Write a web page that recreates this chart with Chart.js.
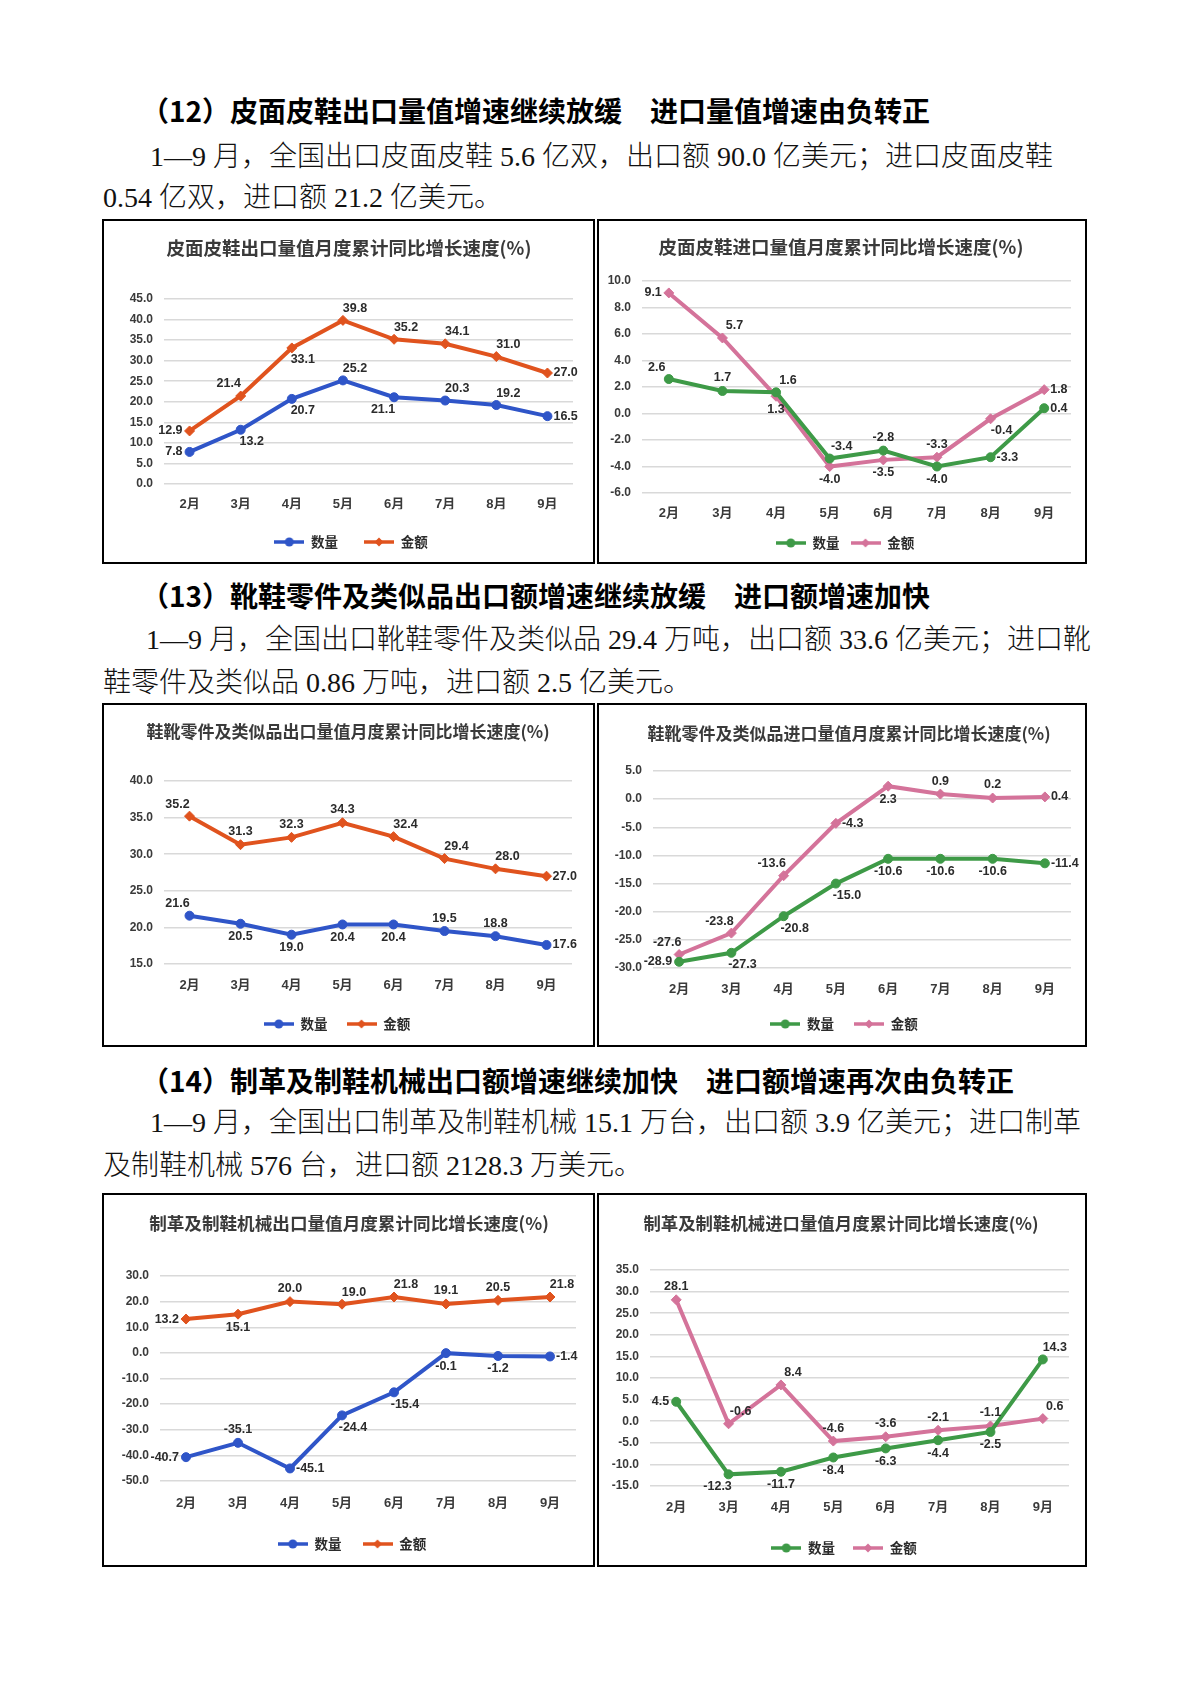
<!DOCTYPE html>
<html>
<head>
<meta charset="utf-8">
<script src="https://cdn.jsdelivr.net/npm/chart.js@4.4.1/dist/chart.umd.min.js"></script>
<style>
  body { margin: 0; background: #fff; }
  #page { position: relative; width: 1190px; height: 1683px; overflow: hidden; background: #fff; }
  .h { position: absolute; left: 141px; white-space: nowrap; font: bold 28px/40px "Noto Sans CJK SC", sans-serif; color: #000; }
  .p { position: absolute; white-space: nowrap; font: 300 28px/40px "Liberation Serif", "Noto Sans CJK SC", serif; color: #111; }
  .cv { position: absolute; }
  .box { position: absolute; box-sizing: border-box; border: 2px solid #000; pointer-events: none; }
  .ttl { position: absolute; white-space: nowrap; transform: translate(-50%, -50%); font-family: "Noto Sans CJK SC", sans-serif; font-weight: bold; color: #3a3a3a; line-height: 1; }
</style>
</head>
<body>
<div id="page">
  <div class="h" style="top:90px">（12）皮面皮鞋出口量值增速继续放缓　进口量值增速由负转正</div>
  <div class="p" style="top:137px;left:150px">1—9 月，全国出口皮面皮鞋 5.6 亿双，出口额 90.0 亿美元；进口皮面皮鞋</div>
  <div class="p" style="top:178px;left:103px">0.54 亿双，进口额 21.2 亿美元。</div>

  <div class="h" style="top:575px">（13）靴鞋零件及类似品出口额增速继续放缓　进口额增速加快</div>
  <div class="p" style="top:620px;left:146px">1—9 月，全国出口靴鞋零件及类似品 29.4 万吨，出口额 33.6 亿美元；进口靴</div>
  <div class="p" style="top:663px;left:103px">鞋零件及类似品 0.86 万吨，进口额 2.5 亿美元。</div>

  <div class="h" style="top:1060px">（14）制革及制鞋机械出口额增速继续加快　进口额增速再次由负转正</div>
  <div class="p" style="top:1103px;left:150px">1—9 月，全国出口制革及制鞋机械 15.1 万台，出口额 3.9 亿美元；进口制革</div>
  <div class="p" style="top:1146px;left:103px">及制鞋机械 576 台，进口额 2128.3 万美元。</div>
</div>

<script>
// categories and series
const months = ['2月', '3月', '4月', '5月', '6月', '7月', '8月', '9月'];
const seriesNames = ['数量', '金额'];

// 皮面皮鞋
const shoeExpQty = [7.8, 13.2, 20.7, 25.2, 21.1, 20.3, 19.2, 16.5];
const shoeExpVal = [12.9, 21.4, 33.1, 39.8, 35.2, 34.1, 31.0, 27.0];
const shoeImpQty = [2.6, 1.7, 1.6, -3.4, -2.8, -4.0, -3.3, 0.4];
const shoeImpVal = [9.1, 5.7, 1.3, -4.0, -3.5, -3.3, -0.4, 1.8];

// 靴鞋零件及类似品
const partsExpQty = [21.6, 20.5, 19.0, 20.4, 20.4, 19.5, 18.8, 17.6];
const partsExpVal = [35.2, 31.3, 32.3, 34.3, 32.4, 29.4, 28.0, 27.0];
const partsImpQty = [-28.9, -27.3, -20.8, -15.0, -10.6, -10.6, -10.6, -11.4];
const partsImpVal = [-27.6, -23.8, -13.6, -4.3, 2.3, 0.9, 0.2, 0.4];

// 制革及制鞋机械
const machExpQty = [-40.7, -35.1, -45.1, -24.4, -15.4, -0.1, -1.2, -1.4];
const machExpVal = [13.2, 15.1, 20.0, 19.0, 21.8, 19.1, 20.5, 21.8];
const machImpQty = [4.5, -12.3, -11.7, -8.4, -6.3, -4.4, -2.5, 14.3];
const machImpVal = [28.1, -0.6, 8.4, -4.6, -3.6, -2.1, -1.1, 0.6];

// y axis ranges: [min, max, step]
const shoeExpTicks = [0, 45, 5];
const shoeImpTicks = [-6, 10, 2];
const partsExpTicks = [15, 40, 5];
const partsImpTicks = [-30, 5, 5];
const machExpTicks = [-50, 30, 10];
const machImpTicks = [-15, 35, 5];

const titles = [
  '皮面皮鞋出口量值月度累计同比增长速度(%)',
  '皮面皮鞋进口量值月度累计同比增长速度(%)',
  '鞋靴零件及类似品出口量值月度累计同比增长速度(%)',
  '鞋靴零件及类似品进口量值月度累计同比增长速度(%)',
  '制革及制鞋机械出口量值月度累计同比增长速度(%)',
  '制革及制鞋机械进口量值月度累计同比增长速度(%)'
];

const expColors = ['#2F55C8', '#E0531E'];
const impColors = ['#3E9A47', '#D4739A'];

// label placement around each point
const OFFS = {
  a: [0, -13, 'center'], b: [0, 13, 'center'],
  ar: [12, -12, 'center'], al: [-12, -12, 'center'],
  br: [11, 12, 'center'], bl: [-11, 12, 'center'],
  l: [-7, 0, 'right'], r: [6, 0, 'left']
};

const valueLabels = {
  id: 'valueLabels',
  afterDatasetsDraw(chart) {
    const ctx = chart.ctx;
    ctx.save();
    ctx.font = 'bold 12.5px "Liberation Sans", sans-serif';
    ctx.fillStyle = '#2b2b2b';
    ctx.textBaseline = 'middle';
    chart.data.datasets.forEach((ds, di) => {
      chart.getDatasetMeta(di).data.forEach((pt, i) => {
        const o = OFFS[ds.labelPos[i]];
        ctx.textAlign = o[2];
        ctx.fillText(ds.data[i].toFixed(1), pt.x + o[0], pt.y + o[1]);
      });
    });
    ctx.restore();
  }
};

function legendIcon(color, shape) {
  const c = document.createElement('canvas');
  c.width = 30; c.height = 12;
  const g = c.getContext('2d');
  g.strokeStyle = color; g.fillStyle = color; g.lineWidth = 3.5;
  g.beginPath(); g.moveTo(0, 6); g.lineTo(30, 6); g.stroke();
  g.beginPath();
  if (shape === 'circle') {
    g.arc(15, 6, 4.5, 0, Math.PI * 2);
  } else {
    g.moveTo(15, 1.5); g.lineTo(19.5, 6); g.lineTo(15, 10.5); g.lineTo(10.5, 6); g.closePath();
  }
  g.fill();
  return c;
}

const page = document.getElementById('page');

function makeChart(s) {
  const [bx0, by0, bx1, by1] = s.box;
  const W = bx1 - bx0, H = by1 - by0;

  const wrap = document.createElement('div');
  wrap.className = 'cv';
  wrap.style.cssText = `left:${bx0}px;top:${by0}px;width:${W}px;height:${H}px`;
  const cv = document.createElement('canvas');
  wrap.appendChild(cv);
  page.appendChild(wrap);

  const border = document.createElement('div');
  border.className = 'box';
  border.style.cssText = `left:${bx0}px;top:${by0}px;width:${W}px;height:${H}px`;
  page.appendChild(border);

  const t = document.createElement('div');
  t.className = 'ttl';
  t.textContent = s.title;
  t.style.cssText = `left:${s.tx}px;top:${s.ty}px;font-size:${s.tfs}px`;
  page.appendChild(t);

  const [px0, py0, px1, py1] = s.plot;
  const padR = bx1 - px1;
  const yW = px0 - bx0;
  const padT = py0 - by0;
  const lfs = 13.5, lp = s.legend[2];
  const legTop = s.legend[1] - by0 - lp - lfs / 2;
  const legH = lfs + lp + 10;
  const padB = H - legTop - legH;
  const xH = legTop - (py1 - by0);
  const xfs = 13;
  const xPad = (s.xLabelY - py1) - xfs * 0.6;
  const legendCx = s.legend[0] - bx0;

  // move the legend row so it sits where the reference has it
  const legendShift = {
    id: 'legendShift',
    afterLayout(chart) {
      const lg = chart.legend;
      const dx = legendCx - (lg.left + lg.right) / 2;
      lg.left += dx; lg.right += dx;
    }
  };

  const line = (name, data, color, style, pos) => ({
    label: name, data: data, labelPos: pos,
    borderColor: color, backgroundColor: color,
    pointBackgroundColor: color, pointBorderColor: color,
    borderWidth: 4, pointStyle: style, pointRadius: style === 'circle' ? 4.5 : 5,
    pointBorderWidth: 1, tension: 0
  });

  new Chart(cv, {
    type: 'line',
    data: {
      labels: months,
      datasets: [
        line(seriesNames[0], s.qty, s.colors[0], 'circle', s.qtyPos),
        line(seriesNames[1], s.val, s.colors[1], 'rectRot', s.valPos)
      ]
    },
    options: {
      responsive: true,
      maintainAspectRatio: false,
      animation: false,
      layout: { padding: { left: 0, right: padR, top: padT, bottom: padB } },
      scales: {
        x: {
          offset: true,
          grid: { display: false, drawTicks: false },
          border: { display: false },
          ticks: {
            padding: xPad, maxRotation: 0, autoSkip: false, color: '#3a3a3a',
            font: { size: xfs, weight: 'bold', family: '"Liberation Sans", "Noto Sans CJK SC"' }
          },
          afterFit: sc => { sc.height = xH; }
        },
        y: {
          min: s.ticks[0], max: s.ticks[1],
          grid: { color: '#d9d9d9', lineWidth: 1.5, drawTicks: false },
          border: { display: false },
          ticks: {
            stepSize: s.ticks[2], padding: 11, color: '#3a3a3a',
            font: { size: 12, weight: 'bold', family: '"Liberation Sans"' },
            callback: v => Number(v).toFixed(1)
          },
          afterFit: sc => { sc.width = yW; }
        }
      },
      plugins: {
        tooltip: { enabled: false },
        title: { display: false },
        legend: {
          position: 'bottom',
          labels: {
            usePointStyle: true, pointStyleWidth: 30, padding: lp, color: '#2b2b2b',
            font: { size: lfs, weight: 'bold', family: '"Noto Sans CJK SC"' },
            generateLabels: chart => chart.data.datasets.map((d, i) => ({
              text: d.label, datasetIndex: i, hidden: false,
              fillStyle: d.borderColor, strokeStyle: d.borderColor, lineWidth: 0,
              fontColor: '#2b2b2b',
              pointStyle: legendIcon(d.borderColor, i === 0 ? 'circle' : 'diamond')
            }))
          }
        }
      }
    },
    plugins: [valueLabels, legendShift]
  });
}

const charts = [
  { title: titles[0], tx: 349, ty: 247, tfs: 18.5, box: [102, 219, 595, 564], plot: [164, 299, 573, 484],
    xLabelY: 504, legend: [351, 542, 26], ticks: shoeExpTicks, colors: expColors,
    qty: shoeExpQty, val: shoeExpVal,
    qtyPos: ['l', 'br', 'br', 'ar', 'bl', 'ar', 'ar', 'r'],
    valPos: ['l', 'al', 'br', 'ar', 'ar', 'ar', 'ar', 'r'] },
  { title: titles[1], tx: 841, ty: 246, tfs: 18.5, box: [597, 219, 1087, 564], plot: [642, 281, 1071, 493],
    xLabelY: 513, legend: [845, 543, 11], ticks: shoeImpTicks, colors: impColors,
    qty: shoeImpQty, val: shoeImpVal,
    qtyPos: ['al', 'a', 'ar', 'ar', 'a', 'b', 'r', 'r'],
    valPos: ['l', 'ar', 'b', 'b', 'b', 'a', 'br', 'r'] },
  { title: titles[2], tx: 348, ty: 730, tfs: 17, box: [102, 703, 595, 1047], plot: [164, 781, 572, 964],
    xLabelY: 985, legend: [337, 1024, 19], ticks: partsExpTicks, colors: expColors,
    qty: partsExpQty, val: partsExpVal,
    qtyPos: ['al', 'b', 'b', 'b', 'b', 'a', 'a', 'r'],
    valPos: ['al', 'a', 'a', 'a', 'ar', 'ar', 'ar', 'r'] },
  { title: titles[3], tx: 849, ty: 732, tfs: 17, box: [597, 703, 1087, 1047], plot: [653, 771, 1071, 968],
    xLabelY: 989, legend: [844, 1024, 20], ticks: partsImpTicks, colors: impColors,
    qty: partsImpQty, val: partsImpVal,
    qtyPos: ['l', 'br', 'br', 'br', 'b', 'b', 'b', 'r'],
    valPos: ['al', 'al', 'al', 'r', 'b', 'a', 'a', 'r'] },
  { title: titles[4], tx: 349, ty: 1223, tfs: 17.6, box: [102, 1193, 595, 1567], plot: [160, 1276, 576, 1481],
    xLabelY: 1503, legend: [352, 1544, 21], ticks: machExpTicks, colors: expColors,
    qty: machExpQty, val: machExpVal,
    qtyPos: ['l', 'a', 'r', 'br', 'br', 'b', 'b', 'r'],
    valPos: ['l', 'b', 'a', 'ar', 'ar', 'a', 'a', 'ar'] },
  { title: titles[5], tx: 841, ty: 1223, tfs: 17.4, box: [597, 1193, 1087, 1567], plot: [650, 1270, 1069, 1486],
    xLabelY: 1507, legend: [844, 1548, 18], ticks: machImpTicks, colors: impColors,
    qty: machImpQty, val: machImpVal,
    qtyPos: ['l', 'bl', 'b', 'b', 'b', 'b', 'b', 'ar'],
    valPos: ['a', 'ar', 'ar', 'a', 'a', 'a', 'a', 'ar'] }
];

charts.forEach(makeChart);
</script>
</body>
</html>
